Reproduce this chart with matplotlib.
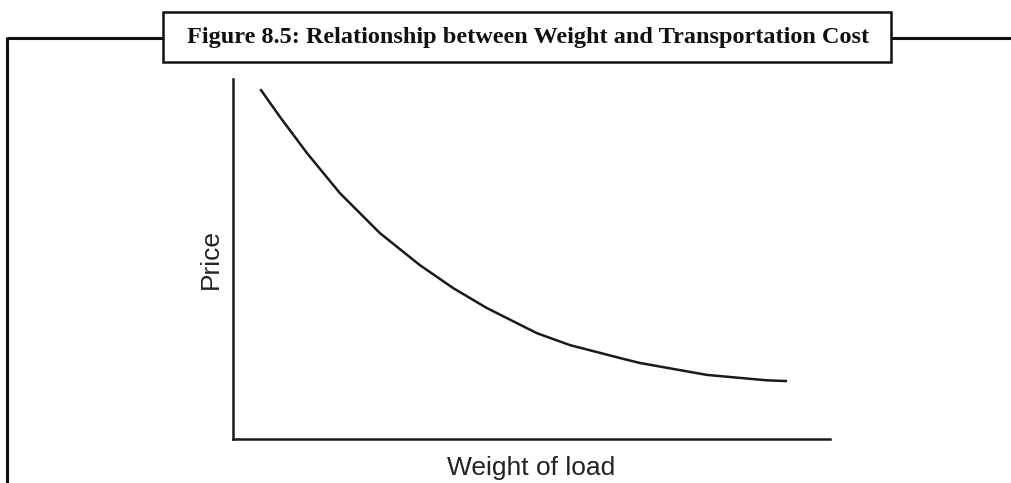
import matplotlib.pyplot as plt

#%%
# curve (weight of load vs price, arbitrary units 0-10)
weight = [0.47, 0.79, 1.24, 1.79, 2.46, 3.13, 3.69, 4.25, 5.09, 5.64, 6.48, 6.82, 7.94, 8.94, 9.26]
price = [9.69, 8.94, 7.94, 6.83, 5.72, 4.83, 4.19, 3.64, 2.94, 2.61, 2.25, 2.11, 1.78, 1.63, 1.61]

title = 'Figure 8.5: Relationship between Weight and Transportation Cost'
xlabel = 'Weight of load'
ylabel = 'Price'

#%%
W, H = 1011, 483
fig = plt.figure(figsize = (W / 100, H / 100), dpi = 100)

# frame + title box, drawn in pixel coordinates on an overlay axes
frame = fig.add_axes([0, 0, 1, 1])
frame.set_xlim(0, W)
frame.set_ylim(H, 0)
frame.axis('off')
frame.plot([7, 163], [38, 38], color = '#111111', lw = 2.2, solid_capstyle = 'butt')
frame.plot([891, W], [38, 38], color = '#111111', lw = 2.2, solid_capstyle = 'butt')
frame.plot([7, 7], [37, H], color = '#111111', lw = 2.2, solid_capstyle = 'butt')
frame.add_patch(plt.Rectangle((163, 12), 728, 50, fill = False, edgecolor = '#111111', lw = 1.8))
frame.text(528, 37, title, ha = 'center', va = 'center', fontsize = 17.5,
           fontweight = 'bold', family = 'Liberation Serif', color = '#111111')

#%%
ax = fig.add_axes([233 / W, 1 - 439 / H, 597 / W, 360 / H])
ax.plot(weight, price, color = '#1a1a1a', lw = 1.8, solid_joinstyle = 'round')
ax.set_xlim(0, 10)
ax.set_ylim(0, 10)
for side in ['top', 'right']:
    ax.spines[side].set_visible(False)
for side in ['left', 'bottom']:
    ax.spines[side].set_linewidth(1.8)
    ax.spines[side].set_color('#1a1a1a')
ax.set_xticks([])
ax.set_yticks([])
ax.patch.set_alpha(0)
ax.set_xlabel(xlabel, family = 'Liberation Sans', fontsize = 19, labelpad = 12, color = '#222222')
ax.set_ylabel(ylabel, family = 'Liberation Sans', fontsize = 19, labelpad = 7, color = '#222222')

plt.savefig('out.png', dpi = 100)
